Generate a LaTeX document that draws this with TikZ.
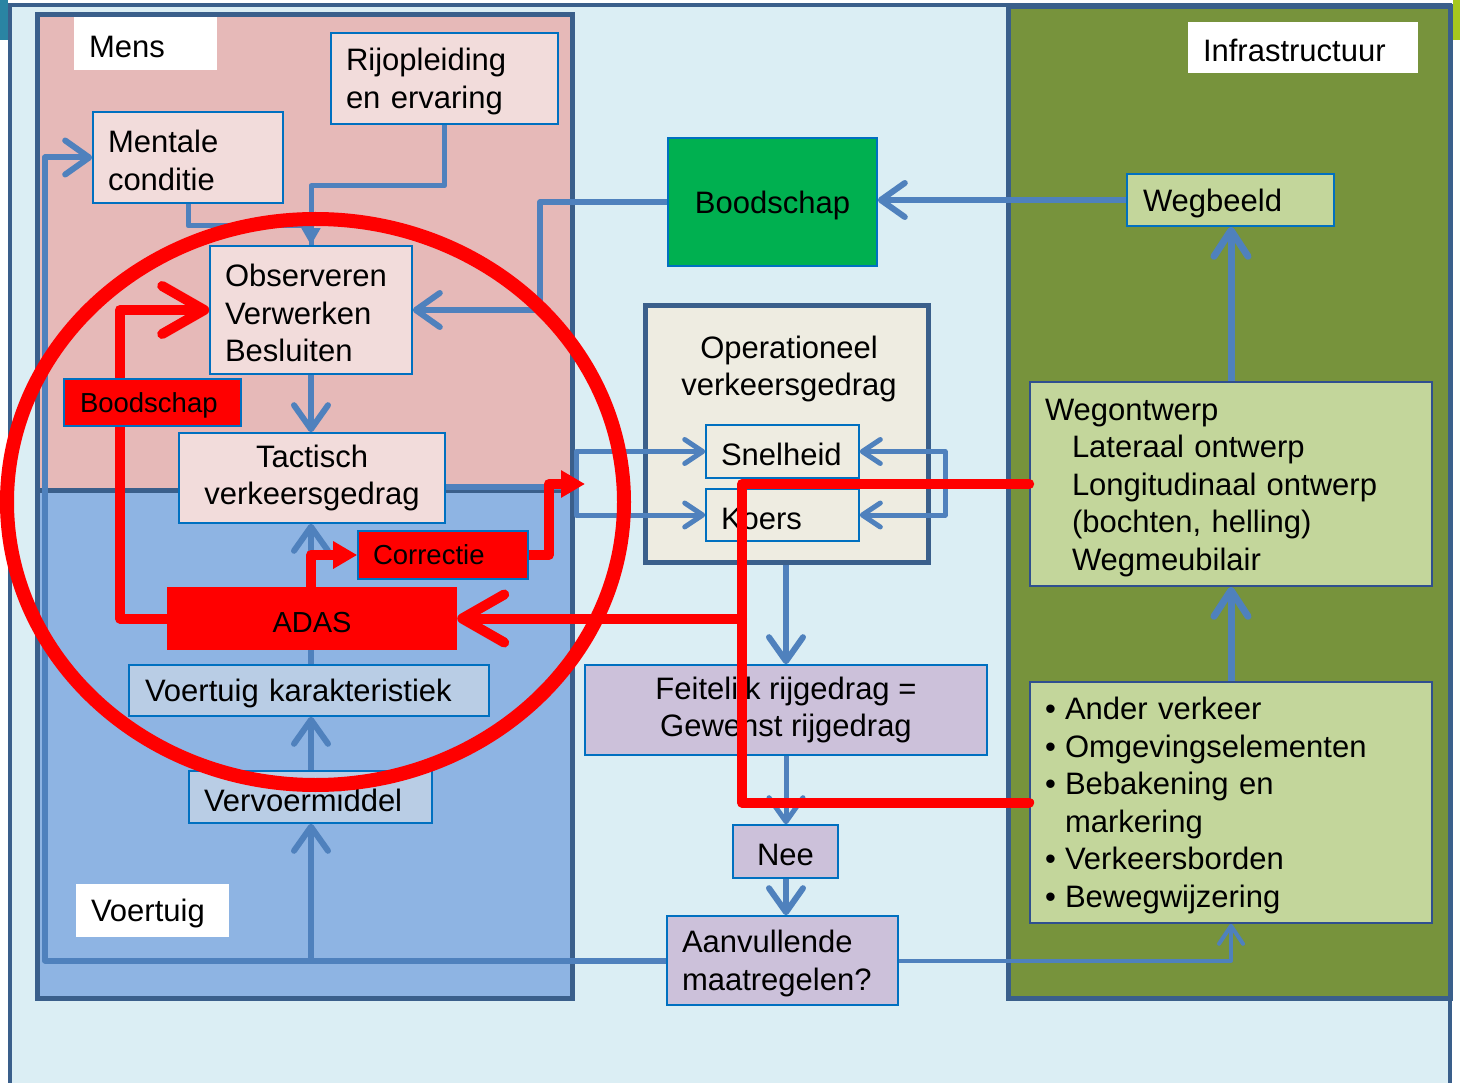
\documentclass[tikz,border=0pt]{standalone}
\usepackage{fontspec}
\setmainfont{Liberation Sans}
\usetikzlibrary{arrows.meta}
\definecolor{bgblue}{HTML}{DBEEF4}
\definecolor{frame}{HTML}{3A5F8B}
\definecolor{mensfill}{HTML}{E6B9B8}
\definecolor{voertfill}{HTML}{8EB4E3}
\definecolor{infrafill}{HTML}{77933C}
\definecolor{pinkn}{HTML}{F2DCDB}
\definecolor{nblue}{HTML}{0070C0}
\definecolor{cblue}{HTML}{4F81BD}
\definecolor{vkfill}{HTML}{B9CDE5}
\definecolor{operfill}{HTML}{EEECE1}
\definecolor{purp}{HTML}{CCC1DA}
\definecolor{lgreen}{HTML}{C3D69B}
\definecolor{gboxfill}{HTML}{00B050}
\definecolor{redc}{HTML}{FF0000}
\definecolor{teal1}{HTML}{2A84A3}
\definecolor{lime1}{HTML}{A6C81E}
\definecolor{wegborder}{HTML}{2F4F8F}
\newcommand\fsA{\fontsize{31pt}{37.5pt}\selectfont}
\newcommand\fsB{\fontsize{27.5pt}{33pt}\selectfont}
\newcommand\fsC{\fontsize{29pt}{35pt}\selectfont}
\newcommand\bulmark{\makebox[20pt][l]{\textbullet}}
\pgfdeclarelayer{bg}
\pgfdeclarelayer{conn}
\pgfdeclarelayer{redl}
\pgfdeclarelayer{redbox}
\pgfdeclarelayer{topl}
\pgfsetlayers{bg,conn,main,redl,redbox,topl}
\tikzset{
  every node/.style={font=\fsA, inner ysep=0pt, inner xsep=15pt},
  tx/.style={execute at begin node={\rule{0pt}{28.5pt}}},
  plainbox/.style={draw=nblue, line width=1.6pt, align=left},
  box/.style={tx, plainbox},
  pbox/.style={box, fill=pinkn},
  lbl/.style={tx, fill=white, align=left},
  cb/.style={draw=cblue, line width=6pt, line join=round},
  rl/.style={draw=redc, line width=10pt, line join=round, line cap=round},
  barbM/.tip={Straight Barb[length=24pt,width=34pt,round]},
  barbS/.tip={Straight Barb[length=18pt,width=24pt,round]},
  barbL/.tip={Straight Barb[length=26pt,width=34pt,round]},
  redBarb/.tip={Straight Barb[length=42pt,width=48pt,round]},
  triS/.tip={Triangle[length=17pt,width=18pt]},
  triR/.tip={Triangle[length=24pt,width=26pt]},
}
\begin{document}
\begin{tikzpicture}[x=1pt,y=-1pt]
\useasboundingbox (0,0) rectangle (1460,1083);
\begin{pgfonlayer}{bg}
\fill[white] (0,0) rectangle (1460,1083);
\fill[bgblue] (9.5,5.5) rectangle (1450,1083);
\draw[frame, line width=4pt] (9.5,1085) -- (9.5,5.5) -- (1450,5.5) -- (1450,1085);
\fill[teal1] (0,0) rectangle (8,40);
\fill[lime1] (1453,0) rectangle (1460,40);
\draw[frame, line width=5pt, fill=mensfill] (37,15) rectangle (572,490);
\draw[frame, line width=5pt, fill=voertfill] (37,490) rectangle (572,998);
\draw[frame, line width=5pt, fill=infrafill] (1008,7) rectangle (1450,998);
\end{pgfonlayer}

% labels
\node[lbl, minimum width=143pt, minimum height=53pt, text width=113pt] (menslbl) at (145.5,43.5) {Mens};
\node[lbl, minimum width=230pt, minimum height=51pt, text width=200pt] (infralbl) at (1303,47.5) {Infrastructuur};
\node[lbl, minimum width=153pt, minimum height=53pt, text width=123pt] (voertlbl) at (152.5,910.5) {Voertuig};

% nodes
\node[pbox, minimum width=190pt, minimum height=91pt, text width=160pt] (mentale) at (188,157.5) {Mentale\\conditie};
\node[pbox, minimum width=227pt, minimum height=91pt, text width=197pt] (rij) at (444.5,78.5) {Rijopleiding\\en ervaring};
\node[pbox, minimum width=202pt, minimum height=128pt, text width=172pt] (obs) at (311,310) {Observeren\\Verwerken\\Besluiten};
\node[pbox, minimum width=266pt, minimum height=90pt, align=center] (tact) at (312,478) {Tactisch\\verkeersgedrag};
\node[box, fill=vkfill, minimum width=360pt, minimum height=51pt, text width=328pt, inner xsep=16pt] (vk) at (309,690.5) {Voertuig karakteristiek};
\node[box, fill=vkfill, minimum width=243pt, minimum height=52pt, text width=213pt] (verv) at (310.5,797) {Vervoermiddel};
\node[box, fill=gboxfill, minimum width=209pt, minimum height=128pt, align=center] (boodg) at (772.5,202) {Boodschap};
\node[draw=frame, line width=5pt, fill=operfill, minimum width=283pt, minimum height=256pt] (oper) at (786.5,434) {};
\node[tx, align=center] (operlbl) at (789,369) {Operationeel\\verkeersgedrag};
\node[box, fill=operfill, minimum width=153pt, minimum height=53pt, text width=123pt] (snel) at (782.5,451.5) {Snelheid};
\node[box, fill=operfill, minimum width=153pt, minimum height=52pt, text width=123pt] (koers) at (782.5,515) {Koers};
\node[box, fill=purp, minimum width=402pt, minimum height=90pt, align=center] (feit) at (786,710) {Feitelijk rijgedrag =\\Gewenst rijgedrag};
\node[box, fill=purp, minimum width=105pt, minimum height=53pt, align=center] (nee) at (785.5,851.5) {Nee};
\node[box, fill=purp, minimum width=231pt, minimum height=89pt, text width=201pt] (aanv) at (782.5,960.5) {Aanvullende\\maatregelen?};
\node[box, fill=lgreen, minimum width=207pt, minimum height=52pt, text width=175pt, inner xsep=16pt] (wegbeeld) at (1230.5,200) {Wegbeeld};
\node[box, draw=wegborder, fill=lgreen, minimum width=402pt, minimum height=204pt, text width=372pt] (wego) at (1231,484) {Wegontwerp\\\hspace*{27pt}Lateraal ontwerp\\\hspace*{27pt}Longitudinaal ontwerp\\\hspace*{27pt}(bochten, helling)\\\hspace*{27pt}Wegmeubilair};
\node[box, draw=wegborder, fill=lgreen, minimum width=402pt, minimum height=241pt, text width=372pt] (bullets) at (1231,802.5) {\bulmark Ander verkeer\\\bulmark Omgevingselementen\\\bulmark Bebakening en\\\hspace*{20pt}markering\\\bulmark Verkeersborden\\\bulmark Bewegwijzering};

\begin{pgfonlayer}{redbox}
\node[plainbox, fill=redc, minimum width=177pt, minimum height=47pt, text width=145pt, inner xsep=16pt, font=\fsB, execute at begin node={\rule{0pt}{25pt}}] (boodr) at (152.5,402.5) {Boodschap};
\node[plainbox, fill=redc, minimum width=170pt, minimum height=48pt, text width=140pt, font=\fsB] (corr) at (443,555) {Correctie};
\node[tx, fill=redc, minimum width=290pt, minimum height=63pt, align=center, font=\fsC] (adas) at (312,618.5) {ADAS};
\end{pgfonlayer}

% helper coordinates
\coordinate (colx) at (311,0);
\coordinate (lc) at (45,0);
\coordinate (brL) at (576,0);
\coordinate (brR) at (945,0);
\coordinate (rx) at (120,0);
\coordinate (redx) at (742,0);
\coordinate (tactR) at ([yshift=-9pt]tact.east);
\coordinate (corrEnd) at (585,484);

% bracket connectors over the Operationeel box
\draw[cb, line width=5pt, -{barbS}] (tactR -| brL) |- (snel.west);
\draw[cb, line width=5pt, -{barbS}] (tactR -| brL) |- (koers.west);
\draw[cb, line width=5pt, {barbS}-{barbS}] (snel.east) -| (brR |- koers.east) -- (koers.east);

% blue connectors
\begin{pgfonlayer}{conn}
\draw[cb, line width=5pt, -{triS}] (rij.south) -- ++(0,61) -| (obs.north);
\draw[cb, line width=5pt] (mentale.south) -- ++(0,22) -| (obs.north);
\draw[cb, -{barbM}] (boodg.west) -- ++(-127,0) |- (obs.east);
\draw[cb, -{barbM}] (wegbeeld.west) -- (wegbeeld.west -| boodg.east);
\draw[cb, -{barbM}] (obs.south -| colx) -- (tact.north -| colx);
\draw[cb, -{barbM}] (vk.north -| colx) -- (tact.south -| colx);
\draw[cb, -{barbM}] (verv.north -| colx) -- (vk.south -| colx);
\draw[cb, -{barbM}] (aanv.west) -| (lc |- mentale.west) -- (mentale.west);
\draw[cb, -{barbM}] (aanv.west -| colx) -- (verv.south -| colx);
\draw[cb, line width=4pt, -{barbS}] (aanv.east) -| (bullets.south);
\draw[cb] (tactR) -- (tactR -| brL);
\draw[cb, -{barbM}] (feit.north |- oper.south) -- (feit.north);
\draw[cb, line width=5pt, -{barbM}] (feit.south) -- (feit.south |- nee.north);
\draw[cb, -{barbM}] (feit.south |- nee.south) -- (feit.south |- aanv.north);
\draw[cb, line width=7pt, -{barbL}] (wego.north) -- (wego.north |- wegbeeld.south);
\draw[cb, line width=7pt, -{barbL}] (bullets.north) -- (bullets.north |- wego.south);
\end{pgfonlayer}

% red connectors
\begin{pgfonlayer}{redl}
\draw[rl, -{redBarb}] (adas.west) -| (rx |- obs.west) -- (obs.west);
\draw[rl, -{triR}] (adas.north -| colx) |- (corr.west);
\draw[rl, -{triR}] (corr.east) -- ++(20,0) |- (corrEnd);
\draw[rl] (wego.west) -| (redx |- bullets.west) -- (bullets.west);
\draw[rl, -{redBarb}] (redx |- adas.east) -- (adas.east);
\end{pgfonlayer}

\begin{pgfonlayer}{topl}
\draw[redc, line width=14pt] (315.5,502) ellipse [x radius=308.5pt, y radius=283pt];
\end{pgfonlayer}
\end{tikzpicture}
\end{document}
